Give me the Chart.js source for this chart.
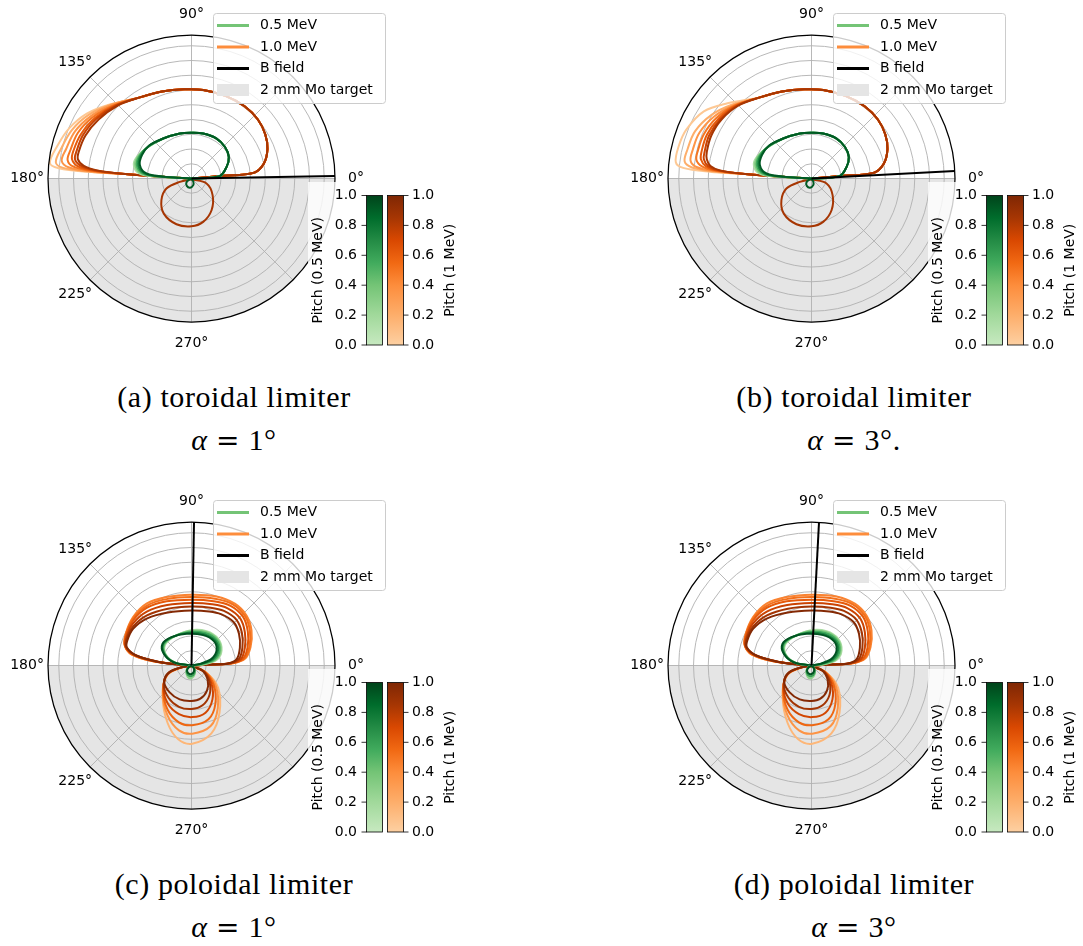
<!DOCTYPE html>
<html>
<head>
<meta charset="utf-8">
<script src="https://cdn.jsdelivr.net/npm/chart.js"></script>
<style>
  body { margin: 0; background: #fff; }
  #page { position: relative; width: 1083px; height: 946px; overflow: hidden; }
  .panel { position: absolute; width: 540px; height: 370px; }
  .cap { position: absolute; width: 468px; text-align: center; font-family: "Liberation Serif", "DejaVu Serif", serif; font-size: 30px; line-height: 30px; letter-spacing: 0.6px; color: #000; white-space: nowrap; }
  .cap i { font-style: italic; }
  .cap .eq { font-family: "DejaVu Serif", serif; font-size: 28px; margin: 0 0.3em; }
</style>
</head>
<body>
<div id="page">
  <canvas id="chartA" class="panel" width="540" height="370" style="left:0;top:0"></canvas>
  <canvas id="chartB" class="panel" width="540" height="370" style="left:620px;top:0"></canvas>
  <canvas id="chartC" class="panel" width="540" height="370" style="left:0;top:487px"></canvas>
  <canvas id="chartD" class="panel" width="540" height="370" style="left:620px;top:487px"></canvas>

  <div class="cap" style="left:0;top:382px">(a) toroidal limiter</div>
  <div class="cap" style="left:0;top:425px"><i>α</i><span class="eq">=</span>1°</div>
  <div class="cap" style="left:620px;top:382px">(b) toroidal limiter</div>
  <div class="cap" style="left:620px;top:425px"><i>α</i><span class="eq">=</span>3°.</div>
  <div class="cap" style="left:0;top:869px">(c) poloidal limiter</div>
  <div class="cap" style="left:0;top:912px"><i>α</i><span class="eq">=</span>1°</div>
  <div class="cap" style="left:620px;top:869px">(d) poloidal limiter</div>
  <div class="cap" style="left:620px;top:912px"><i>α</i><span class="eq">=</span>3°</div>
</div>

<script>
// radial extent of the polar axes and its grid
const RMAX = 9.73;
const RINGS = [1, 2, 3, 4, 5, 6, 7, 8, 9];
const SPOKES = [0, 45, 90, 135, 180, 225, 270, 315];
const ANGLE_LABELS = [0, 90, 135, 180, 225, 270];
const PITCH_TICKS = [0, 0.2, 0.4, 0.6, 0.8, 1.0];

// field line directions (degrees)
const B_ANGLE = { A: 1, B: 3, C: 89, D: 87 };

// ---- toroidal limiter orbits (x, y in grid units) ----
// 1 MeV upper lobe: right/top arc common to all pitches
const torLobeRight = [[0, 0], [2.1, 0.18], [4.2, 0.38], [4.9, 1.0], [5.15, 2.0], [5.0, 3.0], [4.5, 4.0], [3.6, 4.9], [2.3, 5.6], [0.8, 6.0], [-0.5, 6.05], [-2.0, 5.9], [-3.5, 5.5]];
const torLobeBack = [[-4.5, 0.3], [-2.0, 0.12], [0, 0]];
// left arcs per pitch, alpha = 1 deg
const torLeftA = [
  [0.05, [[-5.6, 5.0], [-7.1, 4.4], [-8.3, 3.4], [-9.1, 2.2], [-9.6, 1.05], [-9.0, 0.7], [-7.0, 0.45]]],
  [0.2, [[-5.5, 5.0], [-7.0, 4.3], [-8.1, 3.3], [-8.8, 2.1], [-9.2, 1.1], [-8.7, 0.72], [-6.9, 0.46]]],
  [0.35, [[-5.4, 5.0], [-6.8, 4.25], [-7.9, 3.2], [-8.5, 2.0], [-8.8, 1.2], [-8.3, 0.75], [-6.8, 0.48]]],
  [0.5, [[-5.3, 4.95], [-6.7, 4.15], [-7.7, 3.1], [-8.2, 1.95], [-8.4, 1.25], [-8.0, 0.8], [-6.7, 0.5]]],
  [0.62, [[-5.2, 4.95], [-6.55, 4.1], [-7.5, 3.0], [-8.0, 1.9], [-8.1, 1.3], [-7.7, 0.82], [-6.6, 0.52]]],
  [0.74, [[-5.1, 4.95], [-6.45, 4.05], [-7.35, 2.95], [-7.8, 1.85], [-7.9, 1.3], [-7.5, 0.85], [-6.5, 0.54]]],
  [0.85, [[-5.0, 4.95], [-6.3, 4.0], [-7.2, 2.9], [-7.65, 1.8], [-7.7, 1.3], [-7.3, 0.85], [-6.4, 0.55]]]
];
// left arcs per pitch, alpha = 3 deg
const torLeftB = [
  [0.05, [[-5.7, 5.1], [-7.3, 4.55], [-8.5, 3.3], [-9.0, 2.2], [-9.2, 1.1], [-8.7, 0.72], [-6.9, 0.46]]],
  [0.2, [[-5.4, 5.0], [-6.8, 4.3], [-7.9, 3.2], [-8.4, 2.0], [-8.6, 1.15], [-8.1, 0.75], [-6.7, 0.48]]],
  [0.35, [[-5.3, 4.95], [-6.6, 4.2], [-7.6, 3.1], [-8.05, 1.95], [-8.2, 1.2], [-7.8, 0.78], [-6.6, 0.5]]],
  [0.5, [[-5.2, 4.95], [-6.45, 4.1], [-7.3, 3.0], [-7.7, 1.9], [-7.8, 1.25], [-7.4, 0.8], [-6.5, 0.52]]],
  [0.62, [[-5.1, 4.95], [-6.3, 4.05], [-7.1, 2.95], [-7.45, 1.85], [-7.5, 1.3], [-7.15, 0.82], [-6.4, 0.54]]],
  [0.74, [[-5.0, 4.95], [-6.2, 4.0], [-6.95, 2.9], [-7.25, 1.8], [-7.3, 1.3], [-7.0, 0.84], [-6.3, 0.55]]],
  [0.85, [[-4.95, 4.95], [-6.1, 4.0], [-6.8, 2.9], [-7.1, 1.8], [-7.1, 1.3], [-6.85, 0.85], [-6.2, 0.55]]]
];
// 1 MeV loop below the axis
const torOrangeLoop = [0.85, [[0, -0.05], [1.02, -0.34], [1.43, -1.13], [1.36, -2.15], [0.79, -2.94], [0, -3.24], [-1.02, -3.1], [-1.88, -2.38], [-2.04, -1.47], [-1.7, -0.68], [-0.79, -0.23], [0, -0.05]]];
// 0.5 MeV lobe
const torGreenRight = [[0, 0], [1.9, 0.16], [2.38, 0.79], [2.53, 1.47], [2.26, 2.15], [1.7, 2.71], [0.79, 3.05], [0, 3.1], [-0.79, 3.05], [-1.92, 2.71]];
const torGreenLeft = [
  [0.15, [[-3.05, 2.05], [-3.75, 1.4], [-3.9, 0.82], [-3.45, 0.3], [-1.9, 0.1], [0, 0]]],
  [0.35, [[-3.0, 2.1], [-3.65, 1.45], [-3.8, 0.84], [-3.35, 0.31], [-1.85, 0.1], [0, 0]]],
  [0.55, [[-2.95, 2.15], [-3.55, 1.5], [-3.7, 0.86], [-3.25, 0.32], [-1.8, 0.1], [0, 0]]],
  [0.75, [[-2.9, 2.2], [-3.45, 1.55], [-3.6, 0.88], [-3.15, 0.33], [-1.75, 0.1], [0, 0]]],
  [0.92, [[-2.85, 2.25], [-3.35, 1.6], [-3.5, 0.9], [-3.05, 0.34], [-1.7, 0.11], [0, 0]]]
];
const torGreenLoop = [0.92, [[0, -0.05], [0.12, -0.2], [0.12, -0.45], [-0.1, -0.63], [-0.32, -0.5], [-0.34, -0.25], [-0.15, -0.08], [0, -0.05]]];

// ---- poloidal limiter orbits ----
const polLobes = [
  [0.44, [[0, 0], [1.47, 0.07], [2.83, 0.16], [3.62, 0.45], [4.0, 1.24], [4.07, 2.38], [3.73, 3.39], [2.94, 4.19], [1.7, 4.68], [0, 4.8], [-1.7, 4.64], [-3.05, 4.19], [-3.96, 3.28], [-4.46, 2.15], [-4.52, 1.36], [-4.07, 0.75], [-2.83, 0.34], [-1.24, 0.11], [0, 0]]],
  [0.52, [[0, 0], [1.47, 0.07], [2.78, 0.16], [3.56, 0.45], [3.92, 1.24], [3.96, 2.35], [3.63, 3.35], [2.8, 4.15], [1.6, 4.53], [0, 4.64], [-1.7, 4.5], [-3.05, 4.05], [-3.96, 3.18], [-4.46, 2.08], [-4.52, 1.34], [-4.02, 0.74], [-2.75, 0.32], [-1.2, 0.1], [0, 0]]],
  [0.62, [[0, 0], [1.45, 0.07], [2.7, 0.15], [3.48, 0.45], [3.8, 1.23], [3.82, 2.3], [3.5, 3.3], [2.65, 4.05], [1.5, 4.36], [0, 4.46], [-1.68, 4.35], [-3.04, 3.9], [-3.96, 3.05], [-4.45, 2.0], [-4.5, 1.32], [-3.95, 0.73], [-2.6, 0.3], [-1.1, 0.09], [0, 0]]],
  [0.74, [[0, 0], [1.45, 0.07], [2.6, 0.14], [3.35, 0.44], [3.62, 1.22], [3.62, 2.25], [3.3, 3.2], [2.45, 3.88], [1.4, 4.15], [0, 4.24], [-1.65, 4.1], [-3.03, 3.65], [-3.96, 2.85], [-4.42, 1.9], [-4.46, 1.28], [-3.85, 0.72], [-2.4, 0.28], [-1.0, 0.08], [0, 0]]],
  [0.86, [[0, 0], [1.4, 0.07], [2.5, 0.13], [3.2, 0.43], [3.45, 1.2], [3.42, 2.2], [3.05, 3.1], [2.2, 3.7], [1.3, 3.92], [0, 4.0], [-1.6, 3.85], [-3.02, 3.4], [-3.95, 2.65], [-4.4, 1.8], [-4.42, 1.25], [-3.8, 0.7], [-2.3, 0.26], [-1.0, 0.08], [0, 0]]],
  [0.98, [[0, 0], [1.4, 0.07], [2.4, 0.12], [3.05, 0.42], [3.28, 1.2], [3.22, 2.15], [2.85, 2.95], [2.0, 3.48], [1.2, 3.66], [0, 3.73], [-1.6, 3.6], [-3.0, 3.2], [-3.95, 2.5], [-4.35, 1.7], [-4.38, 1.22], [-3.75, 0.68], [-2.2, 0.24], [-1.0, 0.08], [0, 0]]]
];
const polLoops = [
  [0.15, [[0, -0.05], [1.0, -0.5], [1.8, -1.5], [1.9, -3.2], [1.35, -4.6], [0.05, -5.3], [-0.9, -5.0], [-1.62, -3.9], [-1.95, -2.2], [-1.7, -0.7], [-0.6, -0.1], [0, -0.05]]],
  [0.36, [[0, -0.05], [0.95, -0.45], [1.65, -1.4], [1.78, -2.9], [1.3, -4.1], [0.05, -4.62], [-0.85, -4.4], [-1.62, -3.4], [-1.95, -1.9], [-1.65, -0.65], [-0.6, -0.1], [0, -0.05]]],
  [0.56, [[0, -0.05], [0.9, -0.42], [1.5, -1.3], [1.62, -2.6], [1.15, -3.65], [0.05, -4.05], [-0.85, -3.85], [-1.62, -3.0], [-1.92, -1.7], [-1.62, -0.6], [-0.6, -0.1], [0, -0.05]]],
  [0.72, [[0, -0.05], [0.85, -0.4], [1.35, -1.2], [1.42, -2.3], [0.95, -3.2], [0.05, -3.5], [-0.85, -3.3], [-1.6, -2.6], [-1.9, -1.5], [-1.6, -0.55], [-0.6, -0.1], [0, -0.05]]],
  [0.86, [[0, -0.05], [0.8, -0.38], [1.22, -1.1], [1.22, -2.0], [0.75, -2.7], [0, -2.95], [-0.85, -2.8], [-1.55, -2.2], [-1.88, -1.3], [-1.55, -0.5], [-0.6, -0.1], [0, -0.05]]],
  [0.98, [[0, -0.05], [0.75, -0.35], [1.1, -1.0], [1.05, -1.7], [0.6, -2.25], [0, -2.4], [-0.8, -2.3], [-1.5, -1.8], [-1.85, -1.1], [-1.5, -0.45], [-0.6, -0.1], [0, -0.05]]]
];
const polGreenLobes = [
  [0.15, [[0, 0], [-1.02, 0.16], [-1.7, 0.68], [-1.81, 1.36], [-1.24, 1.92], [-0.11, 2.38], [1.02, 2.33], [1.81, 1.81], [2.04, 1.02], [1.7, 0.38], [0.79, 0.07], [0, 0]]],
  [0.35, [[0, 0], [-1.07, 0.18], [-1.74, 0.7], [-1.85, 1.39], [-1.27, 1.92], [-0.16, 2.32], [0.97, 2.27], [1.75, 1.78], [1.97, 1.02], [1.63, 0.39], [0.74, 0.08], [0, 0]]],
  [0.55, [[0, 0], [-1.12, 0.2], [-1.78, 0.73], [-1.89, 1.42], [-1.3, 1.93], [-0.22, 2.26], [0.92, 2.2], [1.68, 1.75], [1.9, 1.02], [1.55, 0.41], [0.68, 0.09], [0, 0]]],
  [0.75, [[0, 0], [-1.18, 0.21], [-1.83, 0.76], [-1.93, 1.45], [-1.33, 1.93], [-0.28, 2.2], [0.85, 2.12], [1.6, 1.7], [1.8, 1.02], [1.45, 0.43], [0.62, 0.1], [0, 0]]],
  [0.95, [[0, 0], [-1.24, 0.23], [-1.88, 0.79], [-1.97, 1.47], [-1.36, 1.92], [-0.34, 2.15], [0.79, 2.06], [1.52, 1.65], [1.7, 1.02], [1.36, 0.45], [0.57, 0.11], [0, 0]]]
];
const polGreenLoops = [
  [0.3, [[0, -0.03], [0.2, -0.22], [0.22, -0.58], [0, -0.86], [-0.27, -0.75], [-0.35, -0.4], [-0.18, -0.08], [0, -0.03]]],
  [0.6, [[0, -0.03], [0.18, -0.2], [0.2, -0.5], [0, -0.72], [-0.25, -0.64], [-0.33, -0.35], [-0.17, -0.08], [0, -0.03]]],
  [0.95, [[0, -0.03], [0.15, -0.15], [0.17, -0.4], [0, -0.58], [-0.22, -0.52], [-0.3, -0.3], [-0.15, -0.08], [0, -0.03]]]
];

// colormaps for pitch (Greens / Oranges, lower end trimmed)
const GREENS = [[0, '#c7e9c0'], [0.2, '#a1d99b'], [0.4, '#74c476'], [0.55, '#41ab5d'], [0.7, '#238b45'], [0.85, '#006d2c'], [1, '#00441b']];
const ORANGES = [[0, '#fdd0a2'], [0.2, '#fdae6b'], [0.4, '#fd8d3c'], [0.55, '#f16913'], [0.7, '#d94801'], [0.85, '#a63603'], [1, '#7f2704']];

function hexRgb(h) {
  return [1, 3, 5].map(i => parseInt(h.slice(i, i + 2), 16));
}

function cmapColor(stops, v) {
  for (let i = 1; i < stops.length; i++) {
    if (v <= stops[i][0]) {
      const [v0, c0] = stops[i - 1];
      const [v1, c1] = stops[i];
      const t = (v - v0) / (v1 - v0);
      const a = hexRgb(c0), b = hexRgb(c1);
      return 'rgb(' + a.map((x, k) => Math.round(x + (b[k] - x) * t)).join(',') + ')';
    }
  }
  return stops[stops.length - 1][1];
}

function curve(points, color, tension) {
  return {
    data: points.map(([x, y]) => ({ x, y })),
    showLine: true,
    borderColor: color,
    borderWidth: 2,
    pointRadius: 0,
    tension: tension === undefined ? 0.35 : tension,
    fill: false
  };
}

function pitchCurves(list, stops) {
  return list.map(([p, pts]) => curve(pts, cmapColor(stops, p)));
}

function fieldLine(deg) {
  const a = deg * Math.PI / 180;
  return curve([[0, 0], [RMAX * Math.cos(a), RMAX * Math.sin(a)]], '#000', 0);
}

const torLobes = arcs => arcs.map(([p, arc]) => [p, [...torLobeRight, ...arc, ...torLobeBack]]);
const torGreens = torGreenLeft.map(([p, arc]) => [p, [...torGreenRight, ...arc]]);

// grid, target half, labels, legend and colorbars around the orbits
const polarFrame = {
  id: 'polarFrame',
  beforeDatasetsDraw(chart) {
    const { ctx, scales: { x, y } } = chart;
    const cx = x.getPixelForValue(0), cy = y.getPixelForValue(0);
    const u = x.getPixelForValue(1) - cx;
    const R = RMAX * u;
    ctx.save();
    // Mo target occupies the lower half plane
    ctx.fillStyle = '#e5e5e5';
    ctx.beginPath();
    ctx.moveTo(cx + R, cy);
    ctx.arc(cx, cy, R, 0, Math.PI);
    ctx.closePath();
    ctx.fill();
    ctx.strokeStyle = '#b0b0b0';
    ctx.lineWidth = 0.9;
    RINGS.forEach(r => {
      ctx.beginPath();
      ctx.arc(cx, cy, r * u, 0, Math.PI * 2);
      ctx.stroke();
    });
    SPOKES.forEach(a => {
      const t = a * Math.PI / 180;
      ctx.beginPath();
      ctx.moveTo(cx, cy);
      ctx.lineTo(cx + R * Math.cos(t), cy - R * Math.sin(t));
      ctx.stroke();
    });
    ctx.restore();
  },
  afterDatasetsDraw(chart) {
    const { ctx, scales: { x, y } } = chart;
    const cx = x.getPixelForValue(0), cy = y.getPixelForValue(0);
    const u = x.getPixelForValue(1) - cx;
    const R = RMAX * u;
    const font = "14px 'DejaVu Sans', sans-serif";
    ctx.save();
    ctx.strokeStyle = '#000';
    ctx.lineWidth = 1.25;
    ctx.beginPath();
    ctx.arc(cx, cy, R, 0, Math.PI * 2);
    ctx.stroke();

    ctx.fillStyle = '#000';
    ctx.font = font;
    ctx.textAlign = 'center';
    ctx.textBaseline = 'middle';
    ANGLE_LABELS.forEach(a => {
      const t = a * Math.PI / 180;
      ctx.fillText(a + '°', cx + 1.146 * R * Math.cos(t), cy - 1.146 * R * Math.sin(t));
    });

    // colorbar axes background
    ctx.fillStyle = 'rgba(255,255,255,0.8)';
    ctx.fillRect(308, 182, 28, 168);

    // legend
    ctx.fillStyle = 'rgba(255,255,255,0.8)';
    ctx.strokeStyle = '#cccccc';
    ctx.lineWidth = 1;
    ctx.beginPath();
    ctx.roundRect(213.5, 13.5, 172, 90, 3);
    ctx.fill();
    ctx.stroke();
    const items = [
      ['0.5 MeV', cmapColor(GREENS, 0.4)],
      ['1.0 MeV', cmapColor(ORANGES, 0.4)],
      ['B field', '#000'],
      ['2 mm Mo target', null]
    ];
    const rows = [25.5, 47, 68.5, 90];
    items.forEach(([label, color], i) => {
      const ry = rows[i];
      if (color) {
        ctx.strokeStyle = color;
        ctx.lineWidth = 3;
        ctx.beginPath();
        ctx.moveTo(217, ry);
        ctx.lineTo(249, ry);
        ctx.stroke();
      } else {
        ctx.fillStyle = '#e5e5e5';
        ctx.fillRect(217, ry - 6, 32, 12);
      }
      ctx.fillStyle = '#000';
      ctx.textAlign = 'left';
      ctx.fillText(label, 260, ry);
    });

    // pitch colorbars
    const top = 195.5, bot = 345, h = bot - top;
    [[366.5, GREENS], [387.5, ORANGES]].forEach(([bx, stops]) => {
      const g = ctx.createLinearGradient(0, bot, 0, top);
      stops.forEach(([v, c]) => g.addColorStop(v, c));
      ctx.fillStyle = g;
      ctx.fillRect(bx, top, 16, h);
      ctx.strokeStyle = '#000';
      ctx.lineWidth = 0.8;
      ctx.strokeRect(bx, top, 16, h);
    });
    ctx.strokeStyle = '#000';
    ctx.lineWidth = 0.8;
    ctx.fillStyle = '#000';
    PITCH_TICKS.forEach(v => {
      const ty = bot - v * h;
      ctx.beginPath();
      ctx.moveTo(361.5, ty); ctx.lineTo(366.5, ty);
      ctx.moveTo(403.5, ty); ctx.lineTo(408.5, ty);
      ctx.stroke();
      ctx.textAlign = 'right';
      ctx.fillText(v.toFixed(1), 357, ty);
      ctx.textAlign = 'left';
      ctx.fillText(v.toFixed(1), 412, ty);
    });
    [[318, 'Pitch (0.5 MeV)'], [450, 'Pitch (1 MeV)']].forEach(([lx, label]) => {
      ctx.save();
      ctx.translate(lx, (top + bot) / 2);
      ctx.rotate(-Math.PI / 2);
      ctx.textAlign = 'center';
      ctx.fillText(label, 0, 0);
      ctx.restore();
    });
    ctx.restore();
  }
};

// listed bottom-to-top: light pitches first, field line last
const panels = [
  { id: 'chartA', datasets: [...pitchCurves(torLobes(torLeftA), ORANGES), ...pitchCurves([torOrangeLoop], ORANGES), ...pitchCurves(torGreens, GREENS), ...pitchCurves([torGreenLoop], GREENS), fieldLine(B_ANGLE.A)] },
  { id: 'chartB', datasets: [...pitchCurves(torLobes(torLeftB), ORANGES), ...pitchCurves([torOrangeLoop], ORANGES), ...pitchCurves(torGreens, GREENS), ...pitchCurves([torGreenLoop], GREENS), fieldLine(B_ANGLE.B)] },
  { id: 'chartC', datasets: [...pitchCurves(polLobes, ORANGES), ...pitchCurves(polLoops, ORANGES), ...pitchCurves(polGreenLobes, GREENS), ...pitchCurves(polGreenLoops, GREENS), fieldLine(B_ANGLE.C)] },
  { id: 'chartD', datasets: [...pitchCurves(polLobes, ORANGES), ...pitchCurves(polLoops, ORANGES), ...pitchCurves(polGreenLobes, GREENS), ...pitchCurves(polGreenLoops, GREENS), fieldLine(B_ANGLE.D)] }
];

panels.forEach(p => {
  new Chart(document.getElementById(p.id), {
    type: 'scatter',
    // Chart.js paints dataset 0 on top, so hand them over reversed
    data: { datasets: p.datasets.slice().reverse() },
    options: {
      responsive: false,
      animation: false,
      events: [],
      layout: { padding: { left: 48, top: 35, right: 205, bottom: 48 } },
      scales: {
        x: { type: 'linear', min: -RMAX, max: RMAX, display: false },
        y: { type: 'linear', min: -RMAX, max: RMAX, display: false }
      },
      plugins: { legend: { display: false }, tooltip: { enabled: false } }
    },
    plugins: [polarFrame]
  });
});
</script>
</body>
</html>
